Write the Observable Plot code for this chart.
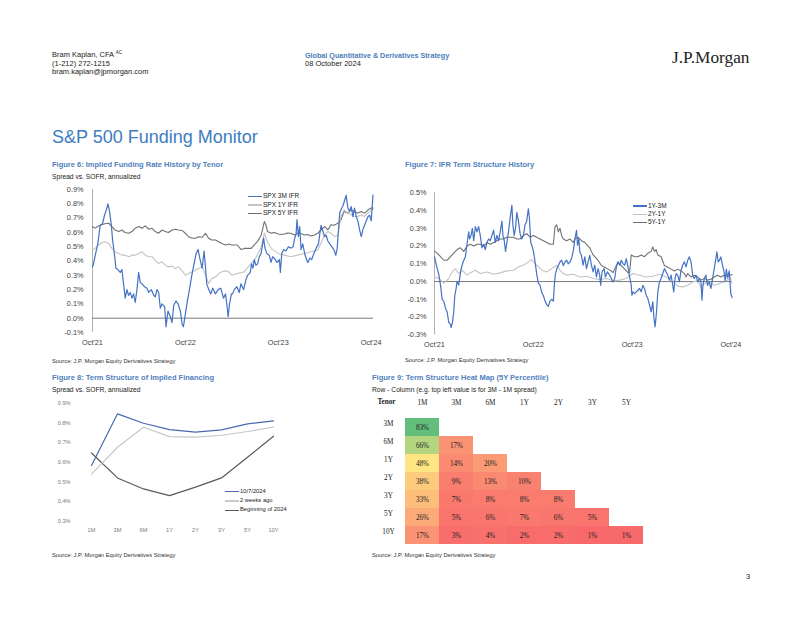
<!DOCTYPE html>
<html><head><meta charset="utf-8">
<script src="https://cdn.jsdelivr.net/npm/d3@7"></script>
<script src="https://cdn.jsdelivr.net/npm/@observablehq/plot@0.6"></script>
<style>
body{margin:0;width:802px;height:620px;position:relative;background:#fff;font-family:"Liberation Sans",Arial,sans-serif;overflow:hidden;color:#222}
.t{position:absolute;white-space:nowrap;line-height:1}
.ft{font-weight:bold;font-size:7.5px;color:#4f81bd}
.sub{font-size:6.7px;color:#222}
.src{font-size:5.8px;color:#333}
.box{position:absolute}
.box svg{overflow:visible}
</style></head><body>
<div class="t" style="left:52px;top:51.3px;font-size:7.5px">Bram Kaplan, CFA <sup style="font-size:4.5px;vertical-align:3px">AC</sup></div>
<div class="t" style="left:52px;top:59.8px;font-size:7.5px">(1-212) 272-1215</div>
<div class="t" style="left:52px;top:68.3px;font-size:7.5px">bram.kaplan@jpmorgan.com</div>
<div class="t" style="left:305px;top:51.5px;font-size:7.2px;font-weight:bold;color:#4a7ebb">Global Quantitative &amp; Derivatives Strategy</div>
<div class="t" style="left:305px;top:60.2px;font-size:7.5px">08 October 2024</div>
<div class="t" style="left:672px;top:48.5px;font-size:17.3px;font-family:'Liberation Serif',serif;color:#222">J.P.Morgan</div>
<div class="t" style="left:52px;top:128.2px;font-size:18px;color:#3d7cc0">S&amp;P 500 Funding Monitor</div>

<div class="t ft" style="left:52px;top:161.3px">Figure 6: Implied Funding Rate History by Tenor</div>
<div class="t sub" style="left:52px;top:174.2px">Spread vs. SOFR, annualized</div>
<div class="t ft" style="left:405px;top:161.3px">Figure 7: IFR Term Structure History</div>
<div class="t src" style="left:52px;top:358.8px">Source: J.P. Morgan Equity Derivatives Strategy</div>
<div class="t src" style="left:405px;top:357.8px">Source: J.P. Morgan Equity Derivatives Strategy</div>

<div class="t ft" style="left:52px;top:373.8px">Figure 8: Term Structure of Implied Financing</div>
<div class="t sub" style="left:52px;top:386.7px">Spread vs. SOFR, annualized</div>
<div class="t ft" style="left:372px;top:373.8px">Figure 9: Term Structure Heat Map (5Y Percentile)</div>
<div class="t sub" style="left:372px;top:386.7px">Row - Column (e.g. top left value is for 3M - 1M spread)</div>
<div class="t src" style="left:52px;top:552.8px">Source: J.P. Morgan Equity Derivatives Strategy</div>
<div class="t src" style="left:372px;top:552.8px">Source: J.P. Morgan Equity Derivatives Strategy</div>
<div class="t" style="left:746px;top:573px;font-size:7.5px">3</div>

<div id="f6" class="box" style="left:40px;top:183px"></div>
<div id="f7" class="box" style="left:400px;top:185px"></div>
<div id="f8" class="box" style="left:40px;top:395px"></div>
<div id="f9" class="box" style="left:365px;top:393px"></div>

<script>
// ---------- shared tick labels ----------
const monthTicks = [0, 12, 24, 36];
const monthLabels = ["Oct'21", "Oct'22", "Oct'23", "Oct'24"];
const y6Ticks = [-0.1, 0, 0.1, 0.2, 0.3, 0.4, 0.5, 0.6, 0.7, 0.8, 0.9];
const y7Ticks = [-0.3, -0.2, -0.1, 0, 0.1, 0.2, 0.3, 0.4, 0.5];
const y8Ticks = [0.3, 0.4, 0.5, 0.6, 0.7, 0.8, 0.9];

// ---------- Figure 6: [months since Oct'21, % spread] ----------
const ifrNames = ["SPX 3M IFR", "SPX 1Y IFR", "SPX 5Y IFR"];
const ifr3M = [[0,0.36],[0.13,0.38],[0.35,0.44],[0.69,0.52],[0.99,0.65],[1.29,0.66],[1.55,0.72],[1.86,0.77],[1.99,0.80],[2.16,0.76],[2.42,0.66],[2.59,0.55],[2.85,0.44],[3.02,0.35],[3.28,0.34],[3.58,0.32],[3.80,0.34],[4.01,0.24],[4.23,0.14],[4.45,0.20],[4.66,0.16],[4.88,0.18],[5.09,0.14],[5.31,0.17],[5.52,0.11],[5.74,0.20],[5.96,0.32],[6.17,0.25],[6.39,0.24],[6.73,0.22],[7.04,0.21],[7.25,0.18],[7.60,0.20],[7.90,0.16],[8.11,0.15],[8.33,0.20],[8.55,0.18],[8.76,0.07],[8.98,0.10],[9.32,0.08],[9.50,-0.06],[9.75,0.05],[10.06,0.01],[10.27,-0.03],[10.49,0.09],[10.79,0.12],[11.05,0.10],[11.35,0.05],[11.57,-0.04],[11.74,-0.06],[12.0,0.03],[12.26,0.12],[12.52,0.20],[12.86,0.31],[13.12,0.38],[13.38,0.45],[13.64,0.48],[13.90,0.41],[14.16,0.35],[14.42,0.47],[14.59,0.36],[14.76,0.24],[15.02,0.20],[15.28,0.17],[15.54,0.21],[15.88,0.17],[16.23,0.20],[16.57,0.21],[16.92,0.14],[17.18,0.17],[17.39,0.08],[17.52,0.01],[17.70,0.10],[17.95,0.17],[18.09,0.17],[18.31,0.20],[18.65,0.22],[18.96,0.18],[19.17,0.24],[19.52,0.20],[19.82,0.27],[20.03,0.30],[20.38,0.32],[20.55,0.38],[20.73,0.35],[20.90,0.41],[21.11,0.37],[21.33,0.38],[21.55,0.43],[21.76,0.45],[21.98,0.52],[22.11,0.56],[22.28,0.49],[22.54,0.45],[22.84,0.44],[23.06,0.39],[23.27,0.43],[23.49,0.42],[23.83,0.39],[24.14,0.41],[24.27,0.32],[24.44,0.45],[24.70,0.48],[25.0,0.47],[25.30,0.50],[25.65,0.49],[25.91,0.50],[26.08,0.55],[26.30,0.59],[26.42,0.69],[26.60,0.57],[26.77,0.64],[26.94,0.48],[27.16,0.52],[27.46,0.44],[27.81,0.39],[28.07,0.42],[28.32,0.41],[28.58,0.45],[28.89,0.49],[29.19,0.52],[29.36,0.59],[29.53,0.65],[29.75,0.61],[29.97,0.57],[30.18,0.58],[30.40,0.54],[30.66,0.52],[30.91,0.50],[31.17,0.48],[31.43,0.44],[31.61,0.49],[31.78,0.62],[31.95,0.74],[32.12,0.76],[32.38,0.79],[32.77,0.86],[32.99,0.77],[33.20,0.75],[33.42,0.78],[33.64,0.71],[33.85,0.77],[34.07,0.71],[34.28,0.68],[34.50,0.62],[34.72,0.57],[34.93,0.62],[35.15,0.65],[35.36,0.68],[35.58,0.71],[35.80,0.72],[36.01,0.68],[36.23,0.86]];
const ifr1Y = [[0,0.477],[0.35,0.488],[0.78,0.512],[1.2,0.528],[1.6,0.535],[2.1,0.523],[2.5,0.488],[2.9,0.465],[3.4,0.453],[3.8,0.441],[4.2,0.441],[4.7,0.43],[5.1,0.441],[5.5,0.441],[6.0,0.453],[6.4,0.465],[6.8,0.441],[7.3,0.43],[7.7,0.43],[8.1,0.406],[8.5,0.383],[9.0,0.394],[9.4,0.371],[9.8,0.359],[10.3,0.364],[10.7,0.347],[11.1,0.359],[11.6,0.331],[12.0,0.30],[12.4,0.312],[12.9,0.324],[13.3,0.336],[13.7,0.347],[14.2,0.359],[14.6,0.30],[15.0,0.242],[15.4,0.277],[15.9,0.289],[16.3,0.312],[16.7,0.324],[17.2,0.331],[17.6,0.324],[18.0,0.30],[18.7,0.312],[19.6,0.324],[20.5,0.383],[20.9,0.406],[21.3,0.441],[21.8,0.50],[22.2,0.594],[22.6,0.535],[23.1,0.488],[24.0,0.453],[24.8,0.441],[25.6,0.43],[26.5,0.441],[27.4,0.453],[28.2,0.465],[29.1,0.477],[29.5,0.523],[30.0,0.582],[30.4,0.606],[30.8,0.594],[31.3,0.57],[31.7,0.582],[32.1,0.711],[32.5,0.758],[33.0,0.735],[33.4,0.723],[33.8,0.711],[34.3,0.711],[34.7,0.723],[35.1,0.711],[35.6,0.735],[36.0,0.758],[36.25,0.76]];
const ifr5Y = [[0,0.64],[0.35,0.63],[0.78,0.645],[1.2,0.653],[1.6,0.66],[2.1,0.664],[2.5,0.641],[2.9,0.617],[3.4,0.606],[3.8,0.617],[4.2,0.599],[4.7,0.594],[5.1,0.606],[5.5,0.629],[6.0,0.641],[6.4,0.629],[6.8,0.646],[7.3,0.622],[7.7,0.629],[8.1,0.606],[8.5,0.594],[9.0,0.617],[9.4,0.606],[9.8,0.599],[10.3,0.617],[10.7,0.622],[11.1,0.617],[11.6,0.613],[12.0,0.594],[12.4,0.57],[12.9,0.559],[13.3,0.559],[13.7,0.57],[14.2,0.566],[14.6,0.594],[15.0,0.559],[15.4,0.547],[15.9,0.547],[16.3,0.535],[16.7,0.523],[17.2,0.512],[17.6,0.519],[18.0,0.512],[18.7,0.512],[19.2,0.48],[19.6,0.488],[20.5,0.488],[20.9,0.512],[21.3,0.535],[21.8,0.582],[22.2,0.676],[22.4,0.653],[22.6,0.606],[23.1,0.594],[23.5,0.60],[24.0,0.589],[24.4,0.585],[24.8,0.589],[25.2,0.595],[25.6,0.594],[26.1,0.582],[26.5,0.594],[27.0,0.59],[27.4,0.582],[27.8,0.585],[28.2,0.575],[28.6,0.58],[29.1,0.594],[29.5,0.617],[30.0,0.641],[30.4,0.617],[30.8,0.653],[31.2,0.65],[31.7,0.664],[32.1,0.688],[32.5,0.746],[33.0,0.735],[33.4,0.758],[33.8,0.745],[34.3,0.735],[34.7,0.746],[35.1,0.735],[35.3,0.74],[35.6,0.758],[36.0,0.77],[36.25,0.77]];

// ---------- Figure 7: [months since Oct'21, % spread] ----------
const tsNames = ["1Y-3M", "2Y-1Y", "5Y-1Y"];
const ts1Y3M = [[0,0.14],[0.24,0.09],[0.52,0.04],[0.73,-0.02],[0.93,-0.10],[1.13,-0.11],[1.33,-0.15],[1.53,-0.17],[1.73,-0.23],[1.94,-0.24],[2.02,-0.26],[2.18,-0.23],[2.34,-0.17],[2.46,-0.08],[2.62,-0.04],[2.74,0.00],[2.94,-0.02],[3.06,0.02],[3.23,0.07],[3.47,0.11],[3.75,0.14],[3.95,0.21],[4.15,0.28],[4.27,0.24],[4.44,0.26],[4.60,0.30],[4.76,0.23],[4.96,0.31],[5.16,0.28],[5.36,0.31],[5.56,0.26],[5.77,0.19],[5.97,0.21],[6.17,0.18],[6.37,0.22],[6.57,0.24],[6.77,0.23],[6.98,0.26],[7.18,0.29],[7.38,0.22],[7.58,0.26],[7.78,0.23],[7.98,0.28],[8.19,0.34],[8.31,0.26],[8.47,0.23],[8.63,0.17],[8.79,0.22],[8.99,0.28],[9.19,0.36],[9.40,0.43],[9.52,0.32],[9.68,0.26],[9.84,0.30],[10.0,0.39],[10.2,0.34],[10.4,0.27],[10.6,0.24],[10.8,0.26],[11.0,0.32],[11.2,0.34],[11.4,0.41],[11.53,0.36],[11.69,0.22],[11.85,0.20],[12.02,0.17],[12.22,0.11],[12.42,0.04],[12.62,-0.01],[12.82,-0.02],[13.02,-0.06],[13.23,-0.08],[13.43,-0.11],[13.63,-0.13],[13.83,-0.14],[14.03,-0.11],[14.23,-0.10],[14.44,-0.11],[14.56,-0.02],[14.68,0.04],[14.84,0.07],[15.04,0.09],[15.24,0.11],[15.44,0.12],[15.65,0.09],[15.85,0.11],[16.05,0.12],[16.25,0.10],[16.45,0.11],[16.65,0.13],[16.85,0.17],[17.06,0.24],[17.25,0.289],[17.37,0.205],[17.53,0.242],[17.65,0.167],[17.85,0.148],[18.05,0.092],[18.26,0.139],[18.46,0.073],[18.66,0.111],[18.86,0.148],[19.06,0.092],[19.27,0.054],[19.47,0.092],[19.67,0.026],[19.87,0.073],[20.07,0.036],[20.19,-0.021],[20.35,0.054],[20.6,0.073],[20.76,0.026],[21.0,0.054],[21.28,0.036],[21.48,0.017],[21.68,-0.002],[21.89,0.017],[22.09,0.083],[22.29,0.111],[22.49,0.092],[22.69,0.12],[22.89,0.101],[23.1,0.092],[23.3,0.129],[23.5,0.083],[23.7,0.026],[23.9,-0.021],[23.98,-0.077],[24.1,-0.058],[24.3,-0.068],[24.5,-0.058],[24.7,-0.049],[24.91,-0.039],[25.11,-0.058],[25.31,-0.021],[25.51,-0.039],[25.71,-0.077],[25.92,-0.096],[26.12,-0.133],[26.32,-0.171],[26.52,-0.114],[26.64,-0.199],[26.8,-0.255],[26.97,-0.171],[27.13,-0.058],[27.33,-0.002],[27.53,0.017],[27.73,0.045],[27.93,0.073],[28.14,0.054],[28.34,0.036],[28.54,0.008],[28.74,0.036],[28.94,-0.021],[29.06,-0.058],[29.22,0.017],[29.35,0.045],[29.55,0.036],[29.75,-0.002],[29.95,0.064],[30.15,0.092],[30.35,0.111],[30.56,0.083],[30.76,0.12],[30.96,0.139],[31.16,0.111],[31.36,0.036],[31.56,0.017],[31.77,0.036],[31.97,-0.002],[32.17,0.017],[32.37,-0.002],[32.49,-0.105],[32.61,-0.021],[32.77,0.017],[32.97,0.036],[33.17,-0.021],[33.37,-0.002],[33.58,-0.039],[33.78,0.017],[33.98,0.073],[34.18,0.129],[34.3,0.167],[34.46,0.111],[34.62,0.12],[34.78,0.139],[34.98,0.092],[35.18,0.054],[35.3,0.0],[35.45,0.07],[35.6,0.02],[35.8,0.06],[36.0,-0.07],[36.15,-0.09]];
const ts2Y1Y = [[0,0.026],[0.52,0.017],[1.13,-0.008],[1.73,0.017],[2.14,0.054],[2.54,0.073],[2.94,0.045],[3.35,0.064],[3.95,0.036],[4.35,0.049],[4.96,0.064],[5.56,0.045],[6.37,0.054],[7.18,0.041],[7.98,0.049],[8.79,0.06],[9.6,0.064],[10.2,0.083],[10.8,0.092],[11.41,0.111],[11.81,0.124],[12.22,0.101],[12.62,0.083],[13.02,0.064],[13.63,0.054],[14.23,0.073],[14.84,0.092],[15.24,0.064],[15.65,0.045],[16.05,0.036],[16.85,0.041],[17.66,0.026],[18.47,0.03],[19.27,0.017],[20.08,0.011],[20.89,0.017],[21.69,0.004],[22.5,0.008],[23.31,0.017],[24.11,0.045],[24.92,0.036],[25.73,0.026],[26.53,0.03],[27.34,0.041],[28.15,0.026],[28.95,-0.002],[29.56,-0.026],[30.16,-0.03],[30.77,-0.021],[31.37,-0.002],[31.98,0.004],[32.38,-0.034],[32.78,-0.011],[33.39,-0.002],[33.99,-0.021],[34.6,-0.011],[35.2,-0.002],[35.6,0.008],[35.89,0.026],[36.13,-0.008]];
const ts5Y1Y = [[0,0.17],[0.32,0.16],[0.73,0.14],[1.13,0.12],[1.53,0.12],[1.94,0.14],[2.34,0.16],[2.74,0.18],[3.15,0.19],[3.55,0.17],[3.95,0.20],[4.35,0.21],[4.76,0.20],[5.16,0.21],[5.56,0.21],[5.97,0.20],[6.37,0.22],[6.77,0.21],[7.18,0.22],[7.58,0.23],[7.98,0.24],[8.39,0.24],[8.79,0.25],[9.19,0.25],[9.6,0.25],[10.0,0.24],[10.4,0.24],[10.8,0.26],[11.21,0.27],[11.61,0.25],[12.02,0.26],[12.42,0.25],[12.82,0.24],[13.23,0.23],[13.63,0.22],[14.03,0.21],[14.44,0.21],[14.64,0.31],[14.84,0.32],[15.04,0.28],[15.24,0.30],[15.44,0.26],[15.65,0.24],[16.05,0.23],[16.45,0.24],[16.85,0.22],[17.05,0.24],[17.45,0.25],[17.85,0.23],[18.26,0.22],[18.46,0.21],[18.66,0.20],[18.86,0.19],[19.06,0.17],[19.27,0.15],[19.47,0.14],[19.67,0.13],[19.87,0.12],[20.27,0.09],[20.68,0.08],[21.08,0.07],[21.48,0.06],[21.68,0.05],[21.89,0.07],[22.29,0.11],[22.69,0.09],[23.1,0.07],[23.5,0.05],[23.7,0.05],[23.9,0.15],[24.3,0.14],[24.7,0.14],[25.11,0.15],[25.51,0.14],[25.92,0.16],[26.32,0.17],[26.52,0.195],[26.72,0.17],[26.92,0.18],[27.13,0.15],[27.53,0.14],[27.93,0.09],[28.34,0.08],[28.74,0.07],[29.14,0.06],[29.55,0.07],[29.95,0.06],[30.35,0.045],[30.56,0.026],[30.76,0.045],[31.16,0.026],[31.56,0.036],[31.97,0.026],[32.37,0.008],[32.77,0.017],[33.17,0.008],[33.58,0.013],[33.98,0.026],[34.38,0.036],[34.78,0.026],[35.18,0.036],[35.6,0.03],[36.15,0.04]];

// ---------- Figure 8 ----------
const tenors = ["1M","3M","6M","1Y","2Y","3Y","5Y","10Y"];
const curveNames = ["10/7/2024", "2 weeks ago", "Beginning of 2024"];
const curveNow = [0.583,0.846,0.798,0.766,0.753,0.764,0.795,0.81];
const curve2w  = [0.539,0.676,0.778,0.73,0.727,0.737,0.756,0.778];
const curveBoy = [0.647,0.52,0.464,0.43,0.473,0.52,0.625,0.732];

// ---------- Figure 9 ----------
const hmCols = ["1M","3M","6M","1Y","2Y","3Y","5Y"];
const hmRows = ["3M","6M","1Y","2Y","3Y","5Y","10Y"];
const hmValues = [[83],[66,17],[48,14,20],[38,9,13,10],[33,7,8,8,8],[26,5,6,7,6,5],[17,3,4,2,2,1,1]];

// ---------- helpers ----------
const toRows = a => a.map(([m, v]) => ({m, v}));
const pct = d => (Math.abs(d) < 1e-9 ? 0 : d).toFixed(1) + "%";
const mLabel = d => monthLabels[monthTicks.indexOf(d)];
const BLUE = "#4472c4", LGRAY = "#c3c3c3", DGRAY = "#707070";

function legend(left, top, names, colors, fs, rowH, swW) {
  const d = document.createElement("div");
  d.className = "t"; d.style.left = left + "px"; d.style.top = top + "px";
  names.forEach((n, i) => {
    const r = document.createElement("div");
    r.style.cssText = `height:${rowH}px;display:flex;align-items:center;font-size:${fs}px;color:#222`;
    r.innerHTML = `<span style="display:inline-block;width:${swW}px;height:1.3px;background:${colors[i]};margin-right:1px"></span>${n}`;
    d.appendChild(r);
  });
  document.body.appendChild(d);
}

// ---------- Figure 6 ----------
document.getElementById("f6").appendChild(Plot.plot({
  width: 345, height: 168, marginLeft: 52, marginRight: 12, marginTop: 6, marginBottom: 19,
  style: {fontFamily: "'Liberation Sans', Arial, sans-serif", fontSize: "7.3px", color: "#404040", background: "transparent"},
  x: {domain: [0, 36.3], ticks: monthTicks, tickFormat: mLabel, tickSize: 0, tickPadding: 7, label: null},
  y: {domain: [-0.1, 0.9], ticks: y6Ticks, tickFormat: pct, tickSize: 0, tickPadding: 9, label: null},
  marks: [
    Plot.ruleX([0], {stroke: "#b0b0b0"}),
    Plot.ruleY([0], {stroke: "#7a7a7a"}),
    Plot.line(toRows(ifr5Y), {x: "m", y: "v", stroke: DGRAY, strokeWidth: 1.1}),
    Plot.line(toRows(ifr1Y), {x: "m", y: "v", stroke: LGRAY, strokeWidth: 1.1}),
    Plot.line(toRows(ifr3M), {x: "m", y: "v", stroke: BLUE, strokeWidth: 1.2})
  ]
}));
legend(248, 192, ifrNames, [BLUE, LGRAY, DGRAY], 6.5, 8.7, 14);

// ---------- Figure 7 ----------
document.getElementById("f7").appendChild(Plot.plot({
  width: 345, height: 165, marginLeft: 34, marginRight: 13, marginTop: 7.3, marginBottom: 15.7,
  style: {fontFamily: "'Liberation Sans', Arial, sans-serif", fontSize: "7.3px", color: "#404040", background: "transparent"},
  x: {domain: [0, 36.2], ticks: monthTicks, tickFormat: mLabel, tickSize: 0, tickPadding: 7, label: null},
  y: {domain: [-0.3, 0.5], ticks: y7Ticks, tickFormat: pct, tickSize: 0, tickPadding: 8, label: null},
  marks: [
    Plot.ruleX([0], {stroke: "#b0b0b0"}),
    Plot.ruleY([0], {stroke: "#7a7a7a"}),
    Plot.line(toRows(ts5Y1Y), {x: "m", y: "v", stroke: DGRAY, strokeWidth: 1.1}),
    Plot.line(toRows(ts2Y1Y), {x: "m", y: "v", stroke: LGRAY, strokeWidth: 1.1}),
    Plot.line(toRows(ts1Y3M), {x: "m", y: "v", stroke: BLUE, strokeWidth: 1.2})
  ]
}));
legend(633, 201.9, tsNames, [BLUE, LGRAY, DGRAY], 6.5, 8.2, 14);

// ---------- Figure 8 ----------
const curves = [curveNow, curve2w, curveBoy];
const curveColors = ["#4a69b0", "#c8c8c8", "#5a5a5a"];
document.getElementById("f8").appendChild(Plot.plot({
  width: 260, height: 145, marginLeft: 35.7, marginRight: 11, marginTop: 7.7, marginBottom: 19.3,
  style: {fontFamily: "'Liberation Sans', Arial, sans-serif", fontSize: "5.6px", color: "#7a7a7a", background: "transparent"},
  x: {type: "point", domain: tenors, padding: 0.5, tickSize: 0, tickPadding: 6.6, label: null},
  y: {domain: [0.3, 0.9], ticks: y8Ticks, tickFormat: pct, tickSize: 0, tickPadding: 5.7, label: null},
  marks: [2, 1, 0].map(k => Plot.line(tenors.map((t, i) => ({t, v: curves[k][i]})), {x: "t", y: "v", stroke: curveColors[k], strokeWidth: 1.2}))
}));
legend(225, 487, curveNames, curveColors, 5.8, 9.3, 14);

// ---------- Figure 9 ----------
const cells = [];
hmValues.forEach((row, r) => row.forEach((v, c) => cells.push({row: hmRows[r], col: hmCols[c], v})));
document.getElementById("f9").appendChild(Plot.plot({
  width: 285, height: 158, marginLeft: 40, marginRight: 7, marginTop: 22, marginBottom: 4,
  style: {fontFamily: "'Liberation Serif', 'Times New Roman', serif", fontSize: "7.2px", color: "#222", background: "transparent"},
  x: {domain: hmCols, padding: 0},
  y: {domain: hmRows, padding: 0},
  color: {type: "linear", domain: [1, 50, 83], range: ["#F8696B", "#FFEB84", "#63BE7B"]},
  marks: [
    Plot.cell(cells, {x: "col", y: "row", fill: "v"}),
    Plot.text(cells, {x: "col", y: "row", text: d => d.v + "%", fill: "#222"}),
    Plot.axisX({anchor: "top", tickSize: 0, tickPadding: 11, label: null}),
    Plot.axisY({anchor: "left", tickSize: 0, tickPadding: 17, textAnchor: "middle", dy: -4, label: null}),
    Plot.text(["Tenor"], {frameAnchor: "top-left", dx: -19, dy: -14, text: d => d, fontWeight: "bold", textAnchor: "middle", lineAnchor: "middle"})
  ]
}));
</script>
</body></html>
